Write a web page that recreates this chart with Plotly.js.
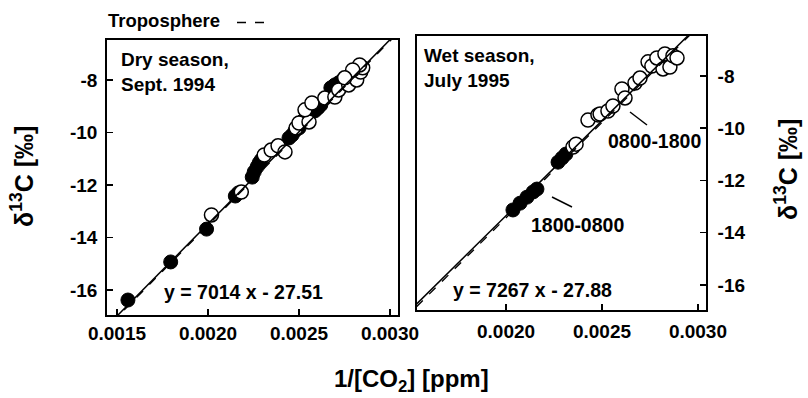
<!DOCTYPE html>
<html>
<head>
<meta charset="utf-8">
<script src="https://cdn.plot.ly/plotly-3.0.1.min.js"></script>
<style>html,body{margin:0;padding:0;background:#fff;}#chart{width:808px;height:398px;}</style>
</head>
<body>
<div id="chart"></div>
<script>
// ---- Data: dry season, Sept. 1994 ----
const dryNightX = [0.00156,0.001795,0.001992,0.00215,0.002167,0.002243,0.002254,0.00227,0.002281,0.002292,0.002445,0.002462,0.002478,0.0025,0.002527,0.002587,0.002604,0.00262,0.002675,0.002697,0.002718,0.00274,0.002762,0.0028,0.002828];
const dryNightY = [-16.38,-14.93,-13.68,-12.42,-12.30,-11.70,-11.50,-11.31,-11.16,-11.05,-10.21,-10.10,-9.94,-9.83,-9.52,-9.18,-9.07,-8.95,-8.30,-8.19,-8.11,-8.00,-7.96,-7.77,-7.62];
const dryDayX = [0.002019,0.002183,0.002309,0.002347,0.002385,0.002423,0.002484,0.0025,0.002555,0.002533,0.002571,0.002642,0.002697,0.002718,0.002773,0.002817,0.002839,0.00285,0.002833,0.002795,0.002751];
const dryDayY = [-13.14,-12.27,-10.86,-10.67,-10.51,-10.74,-9.83,-9.64,-9.60,-9.14,-8.88,-8.69,-8.65,-8.38,-8.19,-8.00,-7.70,-7.54,-7.43,-7.62,-7.92];
// ---- Data: wet season, July 1995 ----
const wetNightX = [0.002036,0.002073,0.002109,0.002141,0.002161,0.002271,0.002292,0.002312];
const wetNightY = [-13.13,-12.87,-12.64,-12.44,-12.33,-11.30,-11.14,-10.99];
const wetDayX = [0.002349,0.002365,0.002427,0.002479,0.00249,0.002531,0.002557,0.002604,0.00262,0.002672,0.002698,0.00274,0.00276,0.002786,0.002818,0.002828,0.002854,0.00287,0.002891];
const wetDayY = [-10.72,-10.61,-9.69,-9.49,-9.46,-9.34,-9.15,-8.50,-8.84,-8.27,-8.08,-7.46,-7.62,-7.31,-7.73,-7.16,-7.66,-7.23,-7.31];
// regression lines (from the printed equations) and troposphere line
const fitX = [0.0014, 0.0031];
const dryFit = {slope: 7014, icpt: -27.51};
const wetFit = {slope: 7267, icpt: -27.88};
const tropoDry = {slope: 7014, icpt: -27.56};
const tropoWet = {slope: 7300, icpt: -28.03};
const xTicks = [0.0015, 0.0020, 0.0025, 0.0030];
const xTickText = ['0.0015', '0.0020', '0.0025', '0.0030'];
const yTicks = [-16, -14, -12, -10, -8];
const yTickText = ['-16', '-14', '-12', '-10', '-8'];

const lineY = f => fitX.map(x => f.slope * x + f.icpt);
const FONT = 'Liberation Sans, Arial, sans-serif';
const openM = {size: 14, color: '#fff', line: {color: '#000', width: 1.5}};
const fillM = {size: 14, color: '#000', line: {color: '#000', width: 1}};

const traces = [
  {x: dryNightX, y: dryNightY, mode: 'markers', marker: fillM, xaxis: 'x', yaxis: 'y', showlegend: false},
  {x: dryDayX, y: dryDayY, mode: 'markers', marker: openM, xaxis: 'x', yaxis: 'y', showlegend: false},
  {x: fitX, y: lineY(tropoDry), mode: 'lines', line: {color: '#000', width: 1.3, dash: 'dash'}, xaxis: 'x', yaxis: 'y', name: ' ', showlegend: true},
  {x: fitX, y: lineY(dryFit), mode: 'lines', line: {color: '#000', width: 1.5}, xaxis: 'x', yaxis: 'y', showlegend: false},
  {x: wetNightX, y: wetNightY, mode: 'markers', marker: fillM, xaxis: 'x2', yaxis: 'y2', showlegend: false},
  {x: wetDayX, y: wetDayY, mode: 'markers', marker: openM, xaxis: 'x2', yaxis: 'y2', showlegend: false},
  {x: fitX, y: lineY(tropoWet), mode: 'lines', line: {color: '#000', width: 1.3, dash: 'dash'}, xaxis: 'x2', yaxis: 'y2', showlegend: false},
  {x: fitX, y: lineY(wetFit), mode: 'lines', line: {color: '#000', width: 1.5}, xaxis: 'x2', yaxis: 'y2', showlegend: false}
];

const mkAxis = (extra) => Object.assign({
  showgrid: false, zeroline: false, showline: true, linecolor: '#000', linewidth: 1.8,
  mirror: true, ticks: 'inside', ticklen: 6, tickwidth: 1.5, tickcolor: '#000',
  tickfont: {family: FONT, size: 19, color: '#000', weight: 'bold'}
}, extra);
const txt = (size, bold) => ({family: FONT, size: size, color: '#000', weight: bold ? 'bold' : 'normal'});

const layout = {
  width: 808, height: 398,
  margin: {l: 0, r: 0, t: 0, b: 0},
  paper_bgcolor: '#fff', plot_bgcolor: '#fff',
  font: {family: FONT, color: '#000'},
  xaxis: mkAxis({domain: [107/808, 398/808], range: [0.001445, 0.003044], anchor: 'y',
    tickvals: xTicks, ticktext: xTickText}),
  yaxis: mkAxis({domain: [1 - 315/398, 1 - 40/398], range: [-16.95, -6.48], anchor: 'x',
    tickvals: yTicks, ticktext: yTickText, ticklabelstandoff: 4}),
  xaxis2: mkAxis({domain: [417/808, 706/808], range: [0.001536, 0.003042], anchor: 'y2',
    tickvals: xTicks, ticktext: xTickText, ticklabelstandoff: 3}),
  yaxis2: mkAxis({domain: [1 - 310/398, 1 - 36/398], range: [-16.96, -6.47], anchor: 'x2',
    side: 'right', tickvals: yTicks, ticktext: yTickText, ticklabelstandoff: 6}),
  showlegend: true,
  legend: {
    x: 232/808, y: 1 - 8/398, xanchor: 'left', yanchor: 'top', orientation: 'h',
    bgcolor: 'rgba(0,0,0,0)', itemwidth: 30,
    font: {family: FONT, size: 12, color: '#000'}
  },
  annotations: [
    {xref: 'paper', yref: 'paper', x: 106/808, y: 1 - 20/398, xanchor: 'left', yanchor: 'middle', showarrow: false,
     text: 'Troposphere', font: txt(18.5, true)},
    {xref: 'paper', yref: 'paper', x: 119/808, y: 1 - 47/398, xanchor: 'left', yanchor: 'top', align: 'left', showarrow: false,
     text: 'Dry season,<br>Sept. 1994', font: txt(19, true)},
    {xref: 'paper', yref: 'paper', x: 422/808, y: 1 - 43/398, xanchor: 'left', yanchor: 'top', align: 'left', showarrow: false,
     text: 'Wet season,<br>July 1995', font: txt(19, true)},
    {xref: 'paper', yref: 'paper', x: 243/808, y: 1 - 292/398, xanchor: 'center', yanchor: 'middle', showarrow: false,
     text: 'y = 7014 x - 27.51', font: txt(19.5, true)},
    {xref: 'paper', yref: 'paper', x: 532/808, y: 1 - 290/398, xanchor: 'center', yanchor: 'middle', showarrow: false,
     text: 'y = 7267 x - 27.88', font: txt(19.5, true)},
    {xref: 'paper', yref: 'paper', x: 654/808, y: 1 - 141/398, xanchor: 'center', yanchor: 'middle', showarrow: false,
     text: '0800-1800', font: txt(19.5, true)},
    {xref: 'paper', yref: 'paper', x: 577/808, y: 1 - 225/398, xanchor: 'center', yanchor: 'middle', showarrow: false,
     text: '1800-0800', font: txt(19.5, true)},
    {xref: 'paper', yref: 'paper', x: 411/808, y: 1 - 380/398, xanchor: 'center', yanchor: 'middle', showarrow: false,
     text: '1/[CO<sub>2</sub>] [ppm]', font: txt(24, true)},
    {xref: 'paper', yref: 'paper', x: 22/808, y: 1 - 177/398, xanchor: 'center', yanchor: 'middle', showarrow: false, textangle: -90,
     text: 'δ<sup>13</sup>C [‰]', font: txt(25, true)},
    {xref: 'paper', yref: 'paper', x: 786/808, y: 1 - 170/398, xanchor: 'center', yanchor: 'middle', showarrow: false, textangle: -90,
     text: 'δ<sup>13</sup>C [‰]', font: txt(25, true)}
  ],
  shapes: [
    {type: 'line', xref: 'paper', yref: 'paper', x0: 630/808, y0: 1 - 112/398, x1: 647/808, y1: 1 - 125/398, line: {color: '#000', width: 1.5}},
    {type: 'line', xref: 'paper', yref: 'paper', x0: 552/808, y0: 1 - 197/398, x1: 572/808, y1: 1 - 207/398, line: {color: '#000', width: 1.5}}
  ]
};

Plotly.newPlot('chart', traces, layout, {staticPlot: true, displayModeBar: false});
</script>
</body>
</html>
